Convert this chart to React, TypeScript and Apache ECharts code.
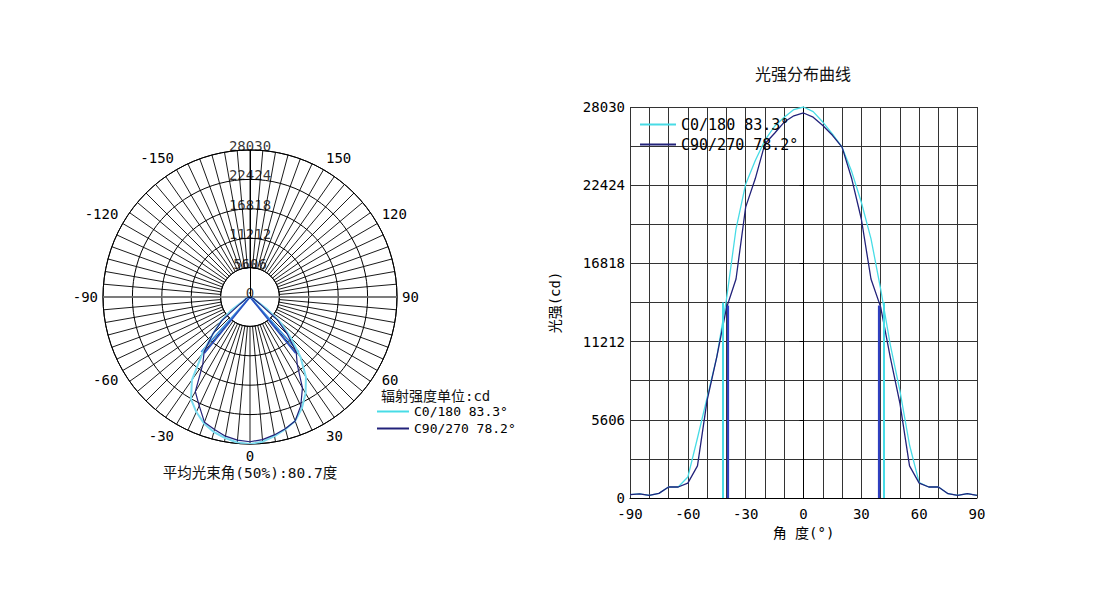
import React, { useEffect, useRef } from "react";
import * as echarts from "echarts";

// ---- data ----
const angles = [-90, -85, -80, -75, -70, -65, -60, -55, -50, -45, -40, -35, -30, -25, -20, -15, -10, -5, 0, 5, 10, 15, 20, 25, 30, 35, 40, 45, 50, 55, 60, 65, 70, 75, 80, 85, 90];
const c0Values = [240, 300, 190, 330, 790, 790, 1500, 4300, 7200, 10100, 14200, 19300, 22500, 24200, 25650, 26650, 27300, 27850, 28030, 27700, 26950, 26100, 25150, 23400, 21200, 18600, 15000, 11000, 7700, 3800, 1100, 790, 790, 310, 190, 310, 190];
const c90Values = [240, 300, 190, 330, 790, 790, 1070, 2300, 7000, 10100, 13600, 15700, 20850, 22900, 25400, 26150, 26950, 27400, 27600, 27300, 26700, 26000, 25150, 22900, 20000, 15700, 13700, 10100, 6800, 2300, 1070, 790, 790, 310, 190, 310, 190];
const seriesNames = ["C0/180 83.3°", "C90/270 78.2°"];
const beamAngles = [83.3, 78.2];
const peakValues = [28030, 27600];
const intensityTicks = [0, 5606, 11212, 16818, 22424, 28030];
const maxIntensity = 28030;
const tickStep = 5606;
const chartTitle = "光强分布曲线";
const yName = "光强(cd)";
const xName = "角 度(°)";
const unitText = "辐射强度单位:cd";
const avgBeamText = "平均光束角(50%):80.7度";

const CYAN = "#48dce6";
const NAVY = "#22227a";
const MONO = "'DejaVu Sans Mono', monospace";
const CJK = "'DejaVu Sans Mono', 'Noto Sans CJK SC', sans-serif";

const cartData = (vals: number[]) => angles.map((a, i) => [a, vals[i]]);
const polarData = (vals: number[]) => angles.map((a, i) => [vals[i], a]);

export default function App() {
  const ref = useRef<HTMLDivElement>(null);
  useEffect(() => {
    if (!ref.current) return;
    const chart = echarts.init(ref.current, undefined, { renderer: "svg" });
    const half0 = beamAngles[0] / 2;
    const half1 = beamAngles[1] / 2;
    const option: any = {
      animation: false,
      backgroundColor: "#fff",
      graphic: [
        { type: "text", x: 803, y: 74, style: { text: chartTitle, align: "center", verticalAlign: "middle", textAlign: "center", textVerticalAlign: "middle", font: `16px ${CJK}`, fill: "#111" } },
        { type: "text", x: 381, y: 396, style: { text: unitText, align: "left", verticalAlign: "middle", textAlign: "left", textVerticalAlign: "middle", font: `14px ${CJK}`, fill: "#111" } },
        { type: "text", x: 250, y: 473, style: { text: avgBeamText, align: "center", verticalAlign: "middle", textAlign: "center", textVerticalAlign: "middle", font: `14.5px ${CJK}`, fill: "#111" } },
      ],
      legend: [
        {
          data: seriesNames, orient: "vertical", left: 640, top: 117, padding: 0,
          itemWidth: 36, itemHeight: 2, itemGap: 5, icon: "rect",
          textStyle: { fontFamily: MONO, fontSize: 15, color: "#000" },
        },
        {
          data: seriesNames, orient: "vertical", left: 377, top: 405, padding: 0,
          itemWidth: 32, itemHeight: 2, itemGap: 4, icon: "rect",
          textStyle: { fontFamily: MONO, fontSize: 13, color: "#000" },
        },
      ],
      polar: [
        { center: [250, 297], radius: [29.4, 147] },
        { center: [250, 297], radius: [0, 147] },
      ],
      angleAxis: [
        {
          polarIndex: 0, type: "value", min: -180, max: 180, interval: 5, startAngle: 90, clockwise: false,
          axisLine: { show: true, lineStyle: { color: "#000", width: 1 } },
          axisTick: { show: false },
          splitLine: { show: true, lineStyle: { color: "#000", width: 0.9 } },
          axisLabel: {
            margin: 5, color: "#000", fontFamily: MONO, fontSize: 14,
            formatter: (v: number) => (v % 30 === 0 && Math.abs(v) !== 180 ? String(v) : ""),
          },
        },
        { polarIndex: 1, type: "value", min: -180, max: 180, startAngle: 90, clockwise: false, show: false },
      ],
      radiusAxis: [
        {
          polarIndex: 0, type: "value", min: tickStep, max: maxIntensity, interval: tickStep,
          axisLine: { show: false }, axisTick: { show: false }, axisLabel: { show: false },
          splitLine: { show: true, lineStyle: { color: "#000", width: 1 } },
        },
        {
          polarIndex: 1, type: "value", min: 0, max: maxIntensity, interval: tickStep,
          axisLine: { show: true, lineStyle: { color: "#000", width: 1 } },
          axisTick: { show: false }, axisLabel: { show: false }, splitLine: { show: false },
        },
      ],
      grid: { left: 630, top: 107, width: 347, height: 391, show: false },
      xAxis: {
        type: "value", min: -90, max: 90, interval: 30,
        axisLine: { show: true, lineStyle: { color: "#000" } },
        axisTick: { show: false },
        axisLabel: { margin: 9, color: "#000", fontFamily: MONO, fontSize: 14, formatter: (v: number) => String(v) },
        splitLine: { show: true, lineStyle: { color: "#333", width: 1 } },
        minorTick: { show: false, splitNumber: 3 },
        minorSplitLine: { show: true, lineStyle: { color: "#333", width: 1 } },
        name: xName, nameLocation: "middle", nameGap: 24,
        nameTextStyle: { fontFamily: CJK, fontSize: 14, color: "#000" },
      },
      yAxis: {
        type: "value", min: 0, max: maxIntensity, interval: tickStep,
        axisLine: { show: true, lineStyle: { color: "#000" } },
        axisTick: { show: true, length: 4, lineStyle: { color: "#000" } },
        axisLabel: { margin: 5, color: "#000", fontFamily: MONO, fontSize: 14, formatter: (v: number) => String(v) },
        splitLine: { show: true, lineStyle: { color: "#333", width: 1 } },
        minorTick: { show: false, splitNumber: 2 },
        minorSplitLine: { show: true, lineStyle: { color: "#333", width: 1 } },
        name: yName, nameLocation: "middle", nameGap: 68,
        nameTextStyle: { fontFamily: CJK, fontSize: 14, color: "#000" },
      },
      series: [
        // polar: horizontal diameter
        {
          type: "line", coordinateSystem: "polar", polarIndex: 1, silent: true, showSymbol: false,
          data: [[maxIntensity, -90], [maxIntensity, 90]],
          lineStyle: { color: "#777", width: 1.6 }, z: 1,
        },
        // polar ring labels
        {
          type: "scatter", coordinateSystem: "polar", polarIndex: 1, silent: true,
          symbolSize: 0.1, itemStyle: { color: "transparent" },
          data: intensityTicks.map((v) => [v, 180]),
          label: {
            show: true, position: "inside", offset: [0, -4], color: "#000",
            textBorderWidth: 0, fontFamily: MONO, fontSize: 14, formatter: (p: any) => String(p.value[0]),
          },
          z: 5,
        },
        // polar beam lines
        {
          type: "line", coordinateSystem: "polar", polarIndex: 1, silent: true, showSymbol: false,
          data: [[peakValues[0] / 2, -half0], [0, 0], [peakValues[0] / 2, half0]],
          lineStyle: { color: "#3a8ee0", width: 1.6 },
        },
        {
          type: "line", coordinateSystem: "polar", polarIndex: 1, silent: true, showSymbol: false,
          data: [[peakValues[1] / 2, -half1], [0, 0], [peakValues[1] / 2, half1]],
          lineStyle: { color: "#2a50c0", width: 1.6 },
        },
        {
          name: seriesNames[0], type: "line", coordinateSystem: "polar", polarIndex: 1,
          showSymbol: false, data: polarData(c0Values), color: CYAN,
          lineStyle: { color: "#7bdcf0", width: 2 },
        },
        {
          name: seriesNames[1], type: "line", coordinateSystem: "polar", polarIndex: 1,
          showSymbol: false, data: polarData(c90Values), color: NAVY,
          lineStyle: { color: NAVY, width: 1.2 },
        },
        // cartesian
        {
          name: seriesNames[0], type: "line", showSymbol: false, data: cartData(c0Values), color: CYAN,
          lineStyle: { color: CYAN, width: 1.3 },
          markLine: {
            silent: true, symbol: "none", label: { show: false },
            lineStyle: { color: CYAN, width: 2, type: "solid" },
            data: [
              [{ coord: [-half0, 0] }, { coord: [-half0, peakValues[0] / 2] }],
              [{ coord: [half0, 0] }, { coord: [half0, peakValues[0] / 2] }],
            ],
          },
        },
        {
          name: seriesNames[1], type: "line", showSymbol: false, data: cartData(c90Values), color: NAVY,
          lineStyle: { color: NAVY, width: 1.3 },
          markLine: {
            silent: true, symbol: "none", label: { show: false },
            lineStyle: { color: "#2f3fbf", width: 2.2, type: "solid" },
            data: [
              [{ coord: [-half1, 0] }, { coord: [-half1, peakValues[1] / 2] }],
              [{ coord: [half1, 0] }, { coord: [half1, peakValues[1] / 2] }],
            ],
          },
        },
      ],
    };
    chart.setOption(option);
    return () => chart.dispose();
  }, []);
  return (
    <div
      ref={ref}
      style={{ position: "fixed", left: 0, top: 0, width: 1102, height: 599, background: "#fff" }}
    />
  );
}
